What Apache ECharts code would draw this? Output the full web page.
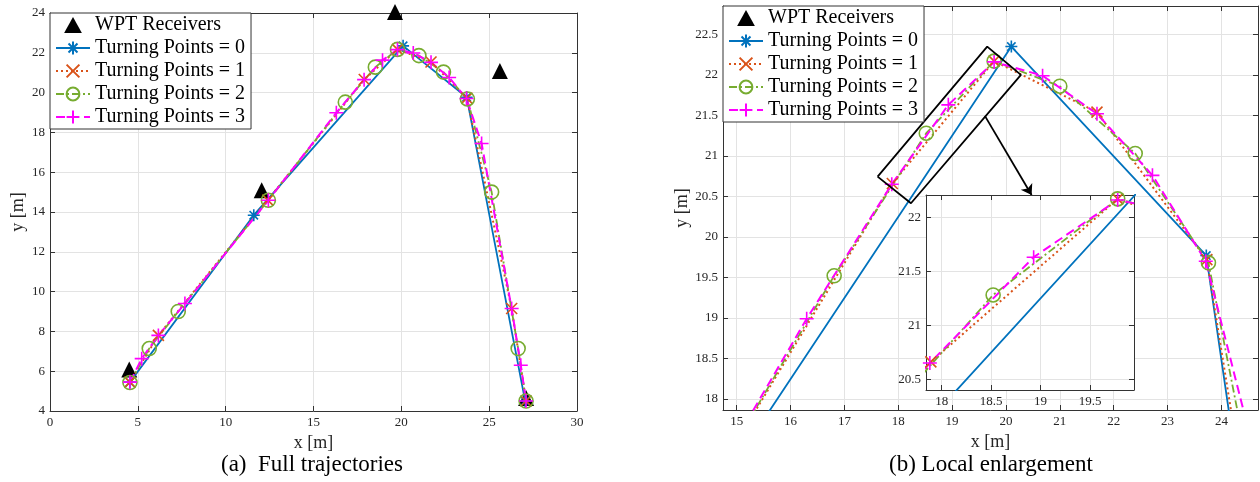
<!DOCTYPE html>
<html>
<head>
<meta charset="utf-8">
<script src="https://cdn.jsdelivr.net/npm/echarts@6/dist/echarts.min.js"></script>
<style>
html, body { margin: 0; padding: 0; background: #fff; }
#main { width: 1260px; height: 482px; }
</style>
</head>
<body>
<div id="main"></div>
<script>
// receivers and trajectories, [x, y] in metres
var receivers = [[4.51, 6.08], [12.05, 15.09], [19.64, 24.05], [25.61, 21.09], [27.1, 4.65]];
var turning0 = [[4.55, 5.45], [11.6, 13.84], [20.1, 22.35], [23.72, 19.77], [27.05, 4.5]];
var turning1 = [[4.55, 5.45], [6.17, 7.8], [12.4, 14.6], [17.89, 20.66], [19.78, 22.17], [21.69, 21.54],
    [23.73, 19.72], [26.28, 9.15], [27.1, 4.5]];
var turning2 = [[4.55, 5.43], [5.65, 7.14], [7.3, 9.0], [12.43, 14.59], [16.81, 19.52], [18.52, 21.28],
    [19.78, 22.17], [21.0, 21.86], [22.4, 21.03], [23.76, 19.68], [25.14, 15.0], [26.65, 7.14], [27.1, 4.5]];
var turning3 = [[4.55, 5.45], [5.22, 6.63], [6.17, 7.8], [7.68, 9.4], [12.43, 14.59], [16.3, 18.99],
    [17.88, 20.65], [18.93, 21.63], [19.78, 22.16], [20.68, 21.99], [21.69, 21.52], [22.72, 20.76],
    [23.71, 19.7], [24.57, 17.44], [26.28, 9.15], [26.8, 6.3], [27.1, 4.5]];

// zoom box and arrow drawn in panel (b)
var zoomBox = [[17.617, 20.744], [19.652, 22.349], [20.278, 22.0], [18.236, 20.416], [17.617, 20.744]];
var zoomArrow = [[19.609, 21.494], [20.476, 20.518]];

// tick labels
var fullXTicks = [0, 5, 10, 15, 20, 25, 30];
var fullYTicks = [4, 6, 8, 10, 12, 14, 16, 18, 20, 22, 24];
var zoomXTicks = [15, 16, 17, 18, 19, 20, 21, 22, 23, 24];
var zoomYTicks = [18, 18.5, 19, 19.5, 20, 20.5, 21, 21.5, 22, 22.5];
var insetXTicks = [18, 18.5, 19, 19.5];
var insetYTicks = [20.5, 21, 21.5, 22];

var names = ['WPT Receivers', 'Turning Points = 0', 'Turning Points = 1', 'Turning Points = 2', 'Turning Points = 3'];
var trajs = [turning0, turning1, turning2, turning3];

var FONT = 'Liberation Serif';
var STAR = 'path://M5 0L5 10M0 5L10 5M1.5 1.5L8.5 8.5M8.5 1.5L1.5 8.5';
var CROSS = 'path://M0 0L10 10M10 0L0 10';
var PLUS = 'path://M5 0L5 10M0 5L10 5';
var TRIANGLE = 'path://M5 0L10 9L0 9Z';

var styles = [
    { color: '#0072BD', fill: '#0072BD', dash: 'solid', width: 1.8, symbol: STAR, size: 12 },
    { color: '#D95319', fill: '#D95319', dash: [2, 3], width: 2, symbol: CROSS, size: 11 },
    { color: '#77AC30', fill: 'rgba(0,0,0,0)', dash: [8, 3, 2, 3], width: 1.8, symbol: 'circle', size: 14 },
    { color: '#FF00FF', fill: '#FF00FF', dash: [9, 5], width: 2, symbol: PLUS, size: 14 }
];

function mkAxis(dim, grid, min, max, ticks, o) {
    o = o || {};
    var a = {
        type: 'value', gridIndex: grid, min: min, max: max, z: o.z || 0,
        position: dim === 'x' ? (o.mirror ? 'top' : 'bottom') : (o.mirror ? 'right' : 'left'),
        axisLine: { show: true, onZero: false, lineStyle: { color: '#333', width: 1 } },
        axisTick: { show: true, inside: true, length: 5, customValues: ticks, lineStyle: { color: '#333' } },
        axisLabel: { show: !o.mirror, customValues: ticks, fontFamily: FONT, fontSize: 13, color: '#262626', margin: 5 },
        splitLine: { show: !o.mirror, lineStyle: { color: '#e3e3e3', width: 1 } }
    };
    if (o.name) {
        a.name = o.name;
        a.nameLocation = 'middle';
        a.nameGap = o.nameGap;
        a.nameTextStyle = { fontFamily: FONT, fontSize: 18, color: '#262626' };
    }
    return a;
}

function recSeries(idx, clip) {
    return {
        type: 'scatter', name: names[0], xAxisIndex: idx, yAxisIndex: idx, data: receivers,
        symbol: 'triangle', symbolSize: 16, clip: clip,
        itemStyle: { color: '#000', opacity: 1 }, z: 2
    };
}

function trajSeries(k, idx, clip, z) {
    var s = styles[k];
    return {
        type: 'line', name: names[k + 1], xAxisIndex: idx, yAxisIndex: idx, data: trajs[k],
        clip: clip, z: z, symbol: s.symbol, symbolSize: s.size, showSymbol: true,
        lineStyle: { color: s.color, width: s.width, type: s.dash },
        itemStyle: { color: s.fill, borderColor: s.color, borderWidth: 1.6 }
    };
}

function mkLegend(left, top) {
    var data = names.map(function (n, i) {
        return i === 0 ? { name: n, icon: TRIANGLE, itemStyle: { color: '#000', opacity: 1 } } : n;
    });
    return {
        left: left, top: top, orient: 'vertical', data: data, selectedMode: false,
        itemWidth: 34, itemHeight: 16, itemGap: 3, padding: [2, 6, 2, 5], symbolKeepAspect: true,
        backgroundColor: '#fff', borderColor: '#333', borderWidth: 1, z: 10,
        textStyle: { fontFamily: FONT, fontSize: 20, color: '#000' }
    };
}

var myChart = echarts.init(document.getElementById('main'));

var series = [recSeries(0, false)];
trajs.forEach(function (t, k) { series.push(trajSeries(k, 0, false, 3)); });
series.push(recSeries(1, true));
trajs.forEach(function (t, k) { series.push(trajSeries(k, 1, true, 3)); });
series.push({
    type: 'line', xAxisIndex: 1, yAxisIndex: 1, data: zoomBox, symbol: 'none', z: 4,
    lineStyle: { color: '#000', width: 1.8 }
});
series.push({
    type: 'line', xAxisIndex: 1, yAxisIndex: 1, data: [], z: 4,
    markLine: {
        silent: true, symbol: ['none', 'arrow'], symbolSize: 10, label: { show: false },
        lineStyle: { color: '#000', width: 1.8, type: 'solid' },
        data: [[{ coord: zoomArrow[0] }, { coord: zoomArrow[1] }]]
    }
});
trajs.forEach(function (t, k) { series.push(trajSeries(k, 2, true, 22)); });

var option = {
    animation: false,
    grid: [
        { left: 50, top: 13, width: 527, height: 398 },
        { left: 723, top: 6, width: 535, height: 404 },
        { left: 926, top: 195, width: 208, height: 195, show: true, backgroundColor: '#fff', borderWidth: 0, z: 20 }
    ],
    xAxis: [
        mkAxis('x', 0, 0, 30, fullXTicks, { name: 'x [m]', nameGap: 22 }),
        mkAxis('x', 1, 14.746, 24.68, zoomXTicks, { name: 'x [m]', nameGap: 22 }),
        mkAxis('x', 2, 17.841, 19.945, insetXTicks, { z: 21 }),
        mkAxis('x', 0, 0, 30, fullXTicks, { mirror: true }),
        mkAxis('x', 1, 14.746, 24.68, zoomXTicks, { mirror: true }),
        mkAxis('x', 2, 17.841, 19.945, insetXTicks, { mirror: true, z: 21 })
    ],
    yAxis: [
        mkAxis('y', 0, 4, 24, fullYTicks, { name: 'y [m]', nameGap: 23 }),
        mkAxis('y', 1, 17.864, 22.85, zoomYTicks, { name: 'y [m]', nameGap: 32 }),
        mkAxis('y', 2, 20.40, 22.206, insetYTicks, { z: 21 }),
        mkAxis('y', 0, 4, 24, fullYTicks, { mirror: true }),
        mkAxis('y', 1, 17.864, 22.85, zoomYTicks, { mirror: true }),
        mkAxis('y', 2, 20.40, 22.206, insetYTicks, { mirror: true, z: 21 })
    ],
    legend: [mkLegend(50, 13), mkLegend(723, 6)],
    graphic: [
        { type: 'text', x: 312, y: 465, style: { text: '(a)  Full trajectories', align: 'center', verticalAlign: 'middle', font: '23px "Liberation Serif"', fill: '#000' } },
        { type: 'text', x: 991, y: 465, style: { text: '(b) Local enlargement', align: 'center', verticalAlign: 'middle', font: '23px "Liberation Serif"', fill: '#000' } }
    ],
    series: series
};

myChart.setOption(option);
</script>
</body>
</html>
